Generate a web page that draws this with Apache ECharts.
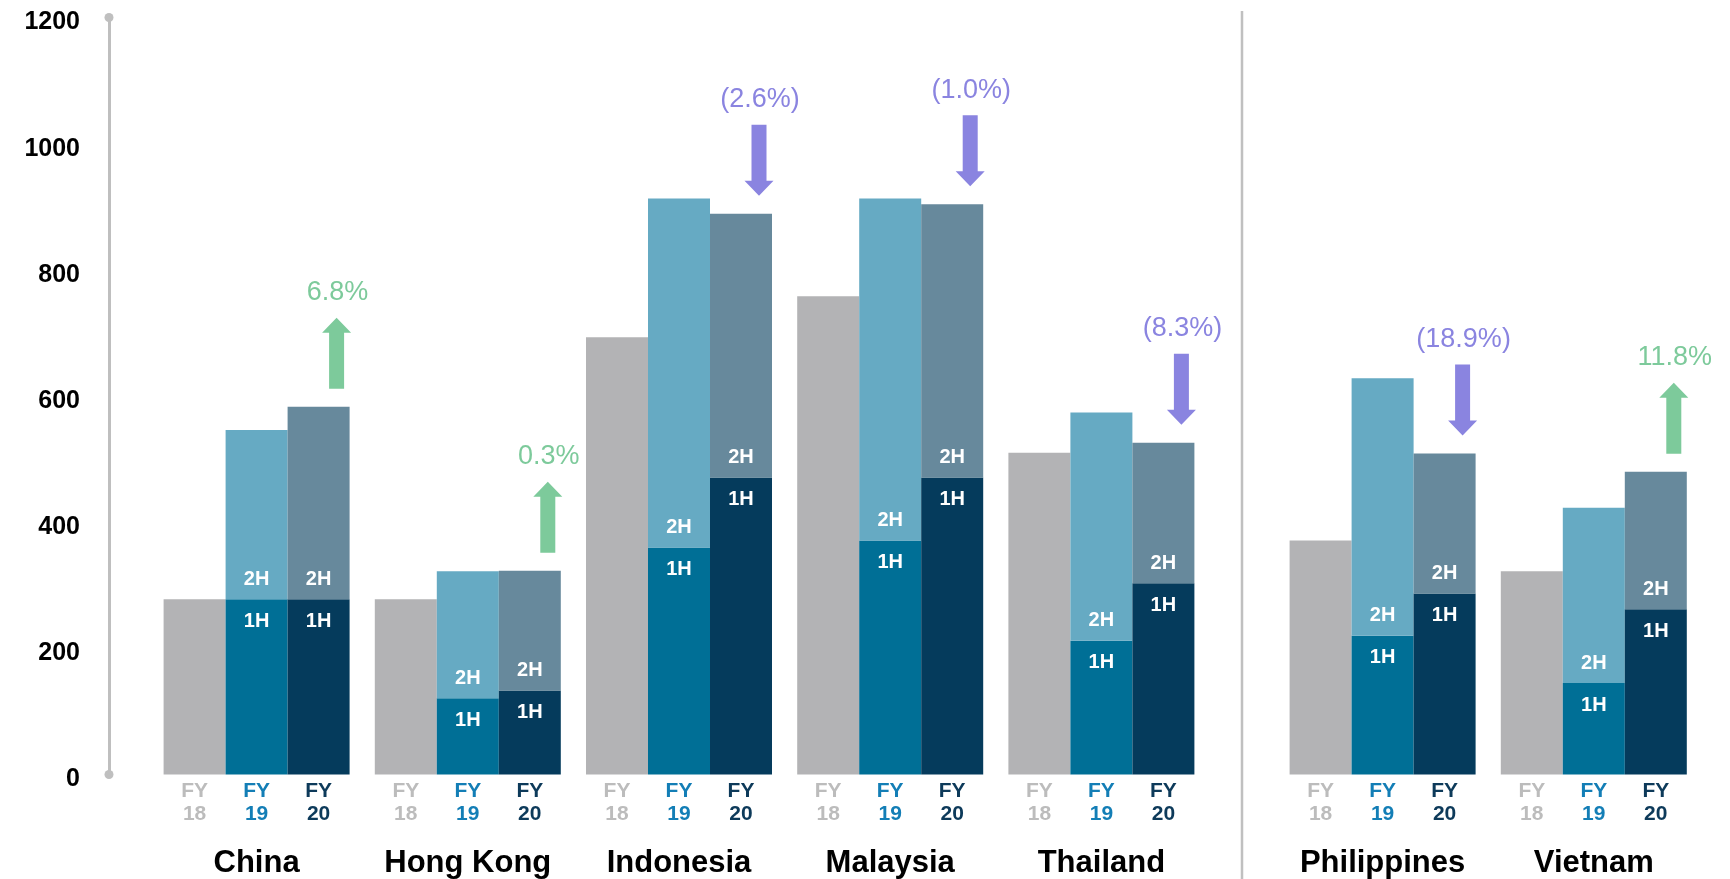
<!DOCTYPE html>
<html>
<head>
<meta charset="utf-8">
<title>FY18-FY20 by market</title>
<script src="https://cdn.jsdelivr.net/npm/echarts@6/dist/echarts.min.js"></script>
<style>
  html, body { margin: 0; padding: 0; background: #fff; }
  #chart { width: 1730px; height: 879px; }
</style>
</head>
<body>
<div id="chart"></div>
<script>
// values
const countries = ["China", "Hong Kong", "Indonesia", "Malaysia", "Thailand", "Philippines", "Vietnam"];
const fy18 = [278, 278, 693, 758, 510, 371, 322];
const fy19H1 = [278, 121, 360, 371, 212, 220, 145];
const fy19H2 = [268, 201, 553, 542, 362, 408, 278];
const fy20H1 = [278, 133, 471, 471, 303, 287, 262];
const fy20H2 = [305, 190, 418, 433, 223, 222, 218];
const growth = [6.8, 0.3, -2.6, -1.0, -8.3, -18.9, 11.8];
const yTicks = [0, 200, 400, 600, 800, 1000, 1200];
const splitAt = 5; // first five markets left of the divider

const FONT = "'Liberation Sans', Arial, sans-serif";
const BAR_W = 62;
const UP = "#7dca9b";
const DOWN = "#8a84e0";

const chart = echarts.init(document.getElementById("chart"));

const fyStyle = (color) => ({
  width: BAR_W, align: "center", color: color,
  fontSize: 21, fontWeight: "bold", fontFamily: FONT, lineHeight: 23,
});

const halfLabel = (text, pos, dist) => ({
  show: true, position: pos, distance: dist, formatter: text,
  color: "#fff", fontSize: 20, fontWeight: "bold", fontFamily: FONT,
});

function pctText(g) {
  return g >= 0 ? g.toFixed(1) + "%" : "(" + Math.abs(g).toFixed(1) + "%)";
}

// growth arrow drawn above the FY20 bar
function renderArrow(params, api) {
  const p = api.coord([api.value(0), api.value(1)]);
  const g = api.value(2);
  const x = p[0] + BAR_W + 18;
  const yb = p[1] - 18;
  const yt = yb - 71;
  const hh = 15, hw = 14.5, sw = 7.5;
  let pts;
  if (g >= 0) {
    pts = [[x, yt], [x + hw, yt + hh], [x + sw, yt + hh], [x + sw, yb],
           [x - sw, yb], [x - sw, yt + hh], [x - hw, yt + hh]];
  } else {
    pts = [[x, yb], [x + hw, yb - hh], [x + sw, yb - hh], [x + sw, yt],
           [x - sw, yt], [x - sw, yb - hh], [x - hw, yb - hh]];
  }
  const color = g >= 0 ? UP : DOWN;
  return {
    type: "group",
    children: [
      { type: "polygon", shape: { points: pts }, style: { fill: color } },
      {
        type: "text",
        style: {
          text: pctText(g), x: x + 1, y: yt - 25,
          align: "center", verticalAlign: "middle",
          fill: color, font: "27px " + FONT,
        },
      },
    ],
  };
}

function seriesFor(gi, from, to) {
  const ax = { xAxisIndex: gi, yAxisIndex: gi, barWidth: BAR_W, barGap: "0%" };
  const arrows = [];
  for (let i = from; i < to; i++) {
    arrows.push([i - from, fy20H1[i] + fy20H2[i], growth[i]]);
  }
  return [
    Object.assign({ type: "bar", name: "FY18", data: fy18.slice(from, to),
      itemStyle: { color: "#b3b3b5" } }, ax),
    Object.assign({ type: "bar", name: "FY19 1H", stack: "fy19_" + gi, data: fy19H1.slice(from, to),
      itemStyle: { color: "#006f96" }, label: halfLabel("1H", "insideTop", 12) }, ax),
    Object.assign({ type: "bar", name: "FY19 2H", stack: "fy19_" + gi, data: fy19H2.slice(from, to),
      itemStyle: { color: "#66aac3" }, label: halfLabel("2H", "insideBottom", 10) }, ax),
    Object.assign({ type: "bar", name: "FY20 1H", stack: "fy20_" + gi, data: fy20H1.slice(from, to),
      itemStyle: { color: "#053b5c" }, label: halfLabel("1H", "insideTop", 12) }, ax),
    Object.assign({ type: "bar", name: "FY20 2H", stack: "fy20_" + gi, data: fy20H2.slice(from, to),
      itemStyle: { color: "#67899c" }, label: halfLabel("2H", "insideBottom", 10) }, ax),
    {
      type: "custom", xAxisIndex: gi, yAxisIndex: gi, z: 5, clip: false,
      encode: { x: 0, y: 1 }, renderItem: renderArrow, data: arrows,
    },
  ];
}

function xAxisFor(gi, cats) {
  return {
    type: "category", gridIndex: gi, data: cats,
    axisLine: { show: false }, axisTick: { show: false },
    axisLabel: {
      interval: 0, margin: 5,
      formatter: (v) => "{a|FY}{b|FY}{c|FY}\n{a|18}{b|19}{c|20}\n{n|" + v + "}",
      rich: {
        a: fyStyle("#bcbcbc"),
        b: fyStyle("#137eb6"),
        c: fyStyle("#0d3a5a"),
        n: { align: "center", color: "#000", fontSize: 31, fontWeight: "bold",
             fontFamily: FONT, lineHeight: 76 },
      },
    },
  };
}

const option = {
  animation: false,
  backgroundColor: "#fff",
  grid: [
    { left: 151, width: 1056, top: 17.5, height: 757 },
    { left: 1277, width: 422.4, top: 17.5, height: 757 },
  ],
  xAxis: [
    xAxisFor(0, countries.slice(0, splitAt)),
    xAxisFor(1, countries.slice(splitAt)),
  ],
  yAxis: [
    {
      type: "value", gridIndex: 0,
      min: yTicks[0], max: yTicks[yTicks.length - 1], interval: 200,
      offset: 42,
      axisLine: {
        show: true, symbol: ["circle", "circle"], symbolSize: [9, 9],
        lineStyle: { color: "#bfbfbf", width: 3 },
      },
      axisTick: { show: false },
      splitLine: { show: false },
      axisLabel: {
        margin: 29, color: "#000", fontSize: 25, fontWeight: "bold", fontFamily: FONT,
        formatter: (v) => String(v),
        verticalAlign: "top", lineHeight: 10,
      },
    },
    { type: "value", gridIndex: 1, min: 0, max: 1200, show: false, splitLine: { show: false } },
  ],
  graphic: [
    {
      type: "line", z: 0,
      shape: { x1: 1242, y1: 11, x2: 1242, y2: 879 },
      style: { stroke: "#c0c0c0", lineWidth: 2.5 },
    },
  ],
  series: seriesFor(0, 0, splitAt).concat(seriesFor(1, splitAt, countries.length)),
};

chart.setOption(option);
window.addEventListener("resize", () => chart.resize());
</script>
</body>
</html>
